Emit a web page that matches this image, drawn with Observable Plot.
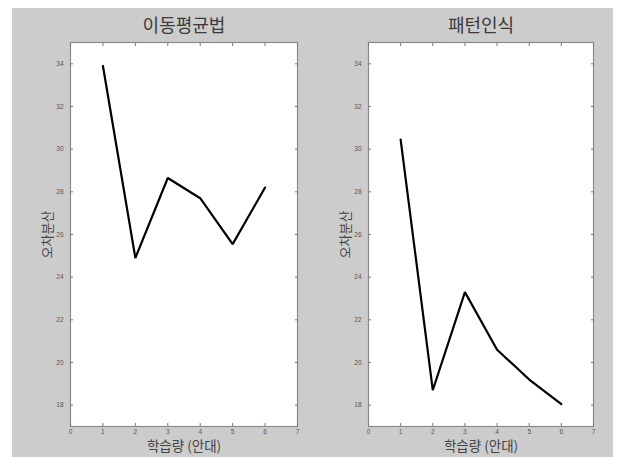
<!DOCTYPE html>
<html>
<head>
<meta charset="utf-8">
<script src="https://cdn.jsdelivr.net/npm/d3@7"></script>
<script src="https://cdn.jsdelivr.net/npm/@observablehq/plot@0.6"></script>
<style>
  html, body { margin: 0; padding: 0; background: #fff; }
  #wrap { position: relative; width: 617px; height: 457px; overflow: hidden; }
  #bg { position: absolute; left: 12px; top: 8px; width: 601px; height: 449px; background: #cccccc; }
  .panel { position: absolute; top: 8px; }
  .panel svg { background: transparent !important; }
</style>
</head>
<body>
<div id="wrap">
  <div id="bg"></div>
  <div id="p1" class="panel" style="left:12px"></div>
  <div id="p2" class="panel" style="left:310px"></div>
</div>
<script>
const titles = ["이동평균법", "패턴인식"];
const xLabel = "학습량 (안대)";
const yLabel = "오차분산";
const steps = [1, 2, 3, 4, 5, 6];
const movingAvg = [33.9, 24.9, 28.65, 27.7, 25.55, 28.2];
const patternRec = [30.45, 18.7, 23.3, 20.6, 19.2, 18.05];
const xTicks = [0, 1, 2, 3, 4, 5, 6, 7];
const yTicks = [18, 20, 22, 24, 26, 28, 30, 32, 34];

const KR = "'Noto Sans CJK KR', 'Noto Sans', sans-serif";
const NUM = "'Liberation Sans', Arial, sans-serif";

function panel(title, values, width, marginRight) {
  const data = steps.map((s, i) => ({x: s, y: values[i]}));
  return Plot.plot({
    width,
    height: 449,
    marginLeft: 58,
    marginRight,
    marginTop: 34,
    marginBottom: 31,
    style: {background: "transparent", fontFamily: NUM},
    x: {domain: [0, 7]},
    y: {domain: [17, 35]},
    marks: [
      Plot.frame({fill: "white", stroke: null}),
      Plot.line(data, {x: "x", y: "y", stroke: "#000", strokeWidth: 2.2, strokeLinejoin: "miter"}),
      Plot.frame({stroke: "#8a8a8a", strokeWidth: 1.2}),
      Plot.axisY(yTicks, {anchor: "left", tickSize: -3, tickPadding: 10, fontSize: 6.5, fill: "#555", stroke: "#777", label: null}),
      Plot.axisY(yTicks, {anchor: "right", tickSize: -3, tickFormat: () => "", stroke: "#777", label: null}),
      Plot.axisX(xTicks, {anchor: "bottom", tickSize: -3, tickPadding: 6, fontSize: 6.5, fill: "#555", stroke: "#777", label: null}),
      Plot.axisX(xTicks, {anchor: "top", tickSize: -3, tickFormat: () => "", stroke: "#777", label: null}),
      Plot.text([title], {text: d => d, frameAnchor: "top", lineAnchor: "middle", textAnchor: "middle", dy: -16, fontSize: 18, fill: "#3a3a3a", fontFamily: KR}),
      Plot.text([yLabel], {text: d => d, frameAnchor: "left", lineAnchor: "middle", textAnchor: "middle", dx: -23, rotate: -90, fontSize: 13, fill: "#444", fontFamily: KR}),
      Plot.text([xLabel], {text: d => d, frameAnchor: "bottom", lineAnchor: "middle", textAnchor: "middle", dy: 20, fontSize: 13.5, fill: "#444", fontFamily: KR})
    ]
  });
}

document.getElementById("p1").append(panel(titles[0], movingAvg, 296, 11));
document.getElementById("p2").append(panel(titles[1], patternRec, 303, 20));
</script>
</body>
</html>
